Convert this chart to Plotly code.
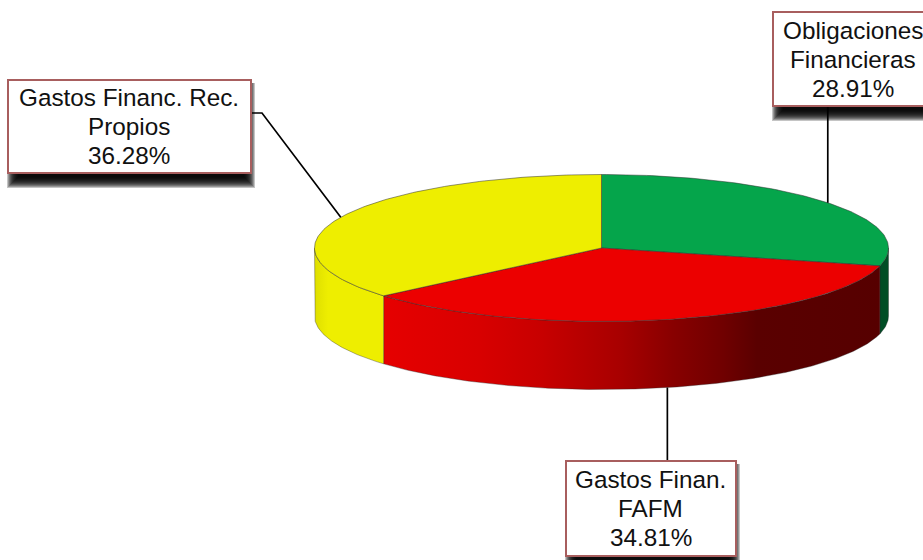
import math
import plotly.graph_objects as go

# Chart data: slices run clockwise from twelve o'clock
categories = ["Obligaciones\nFinancieras", "Gastos Finan.\nFAFM", "Gastos Financ. Rec.\nPropios"]
shares = [28.91, 34.81, 36.28]
top_colors = ["#05A54B", "#EC0000", "#EEEE00"]

# Pie projection, in canvas units
CX, CY = 601.5, 248.0
RX, RY = 287.0, 73.5
DEPTH = 68.0

# Left-to-right colour stops of the front wall, per slice
wall_stops = [
    [(875, "#004D25"), (890, "#004D25")],
    [(383, "#E60000"), (480, "#D80000"), (540, "#C80000"), (620, "#A80000"),
     (673, "#880000"), (723, "#700000"), (757, "#5A0000"), (882, "#560000")],
    [(314, "#DEDE00"), (328, "#EEEE00"), (384, "#EEEE00")],
]

# Label boxes: left, top, right, bottom
boxes = [(773, 12, 933, 106), (566, 461, 736, 556), (8, 80, 251, 173)]
leader_elbows = [[(None, 106)], [(None, 461)], [(251, 113), (262, 113)]]
LINE_GAP = 29
BORDER = "#A85E5E"
EDGE = "rgba(50,50,50,0.65)"


def rim(angle_deg, drop=0.0):
    a = math.radians(angle_deg)
    return CX + RX * math.sin(a), CY - RY * math.cos(a) + drop


def arc(a0, a1, drop=0.0, step=1.0):
    n = max(2, int(abs(a1 - a0) / step) + 1)
    return [rim(a0 + (a1 - a0) * i / (n - 1), drop) for i in range(n)]


def stroke(points, color, width=1.0):
    return go.Scatter(
        x=[p[0] for p in points], y=[p[1] for p in points],
        mode="lines", line=dict(color=color, width=width),
        hoverinfo="skip", showlegend=False,
    )


fig = go.Figure()

# Slice angles derived from the shares
total = sum(shares)
spans = []
start = 0.0
for s in shares:
    end = start + 360.0 * s / total
    spans.append((start, end))
    start = end

# Front wall of each slice, shaded with a horizontal gradient
for (a0, a1), stops in zip(spans, wall_stops):
    lo, hi = max(a0, 90.0), min(a1, 270.0)
    if hi <= lo:
        continue
    pts = arc(lo, hi, 0.0, 0.5) + arc(hi, lo, DEPTH, 0.5)
    pts.append(pts[0])
    x_min, x_max = stops[0][0], stops[-1][0]
    scale = [[(x - x_min) / (x_max - x_min), c] for x, c in stops]
    fig.add_trace(go.Scatter(
        x=[p[0] for p in pts], y=[p[1] for p in pts],
        mode="lines", fill="toself",
        fillgradient=dict(type="horizontal", colorscale=scale, start=x_min, stop=x_max),
        line=dict(color="rgba(40,40,40,0.45)", width=0.8),
        hoverinfo="skip", showlegend=False,
    ))

# Top face
for (a0, a1), col in zip(spans, top_colors):
    pts = [(CX, CY)] + arc(a0, a1) + [(CX, CY)]
    fig.add_trace(go.Scatter(
        x=[p[0] for p in pts], y=[p[1] for p in pts],
        mode="lines", fill="toself", fillcolor=col,
        line=dict(color=EDGE, width=0.8),
        hoverinfo="skip", showlegend=False,
    ))

# Leader lines from each slice's mid-angle out to its label
for (a0, a1), elbow in zip(spans, leader_elbows):
    mid = (a0 + a1) / 2
    front = 90.0 < mid < 270.0
    anchor = rim(mid, DEPTH if front else 0.0)
    path = [(anchor[0] if e[0] is None else e[0], e[1]) for e in elbow] + [anchor]
    fig.add_trace(stroke(path, "#000000", 1.7))

# Label boxes with a soft drop shadow built from stacked translucent rectangles
shapes = []
annotations = []
for (x0, y0, x1, y1), cat, share in zip(boxes, categories, shares):
    for r in range(7, -5, -1):
        shapes.append(dict(
            type="rect", xref="x", yref="y", layer="above",
            x0=x0 + 6 - r, x1=x1 - 3 + r, y0=y0 + 3, y1=y1 + 8 + r,
            fillcolor="rgba(0,0,0,0.23)", line=dict(width=0)))
    shapes.append(dict(
        type="rect", xref="x", yref="y", layer="above",
        x0=x0, x1=x1, y0=y0, y1=y1, fillcolor="#FFFFFF",
        line=dict(color=BORDER, width=2)))
    lines = cat.split("\n") + ["%.2f%%" % share]
    cy = (y0 + y1) / 2
    for i, text in enumerate(lines):
        annotations.append(dict(
            x=(x0 + x1) / 2 - 0.5, y=cy + (i - 1) * LINE_GAP, xref="x", yref="y",
            text=text, showarrow=False, xanchor="center", yanchor="middle",
            font=dict(family="Liberation Sans, Arial, sans-serif", size=24.3, color="#111111"),
        ))

fig.update_layout(
    width=923, height=560, autosize=False,
    margin=dict(l=0, r=0, t=0, b=0),
    paper_bgcolor="#FFFFFF", plot_bgcolor="#FFFFFF",
    showlegend=False,
    xaxis=dict(range=[0, 923], visible=False, fixedrange=True),
    yaxis=dict(range=[560, 0], visible=False, fixedrange=True),
    shapes=shapes, annotations=annotations,
)

fig.write_html("out.html", config={"displayModeBar": False})
